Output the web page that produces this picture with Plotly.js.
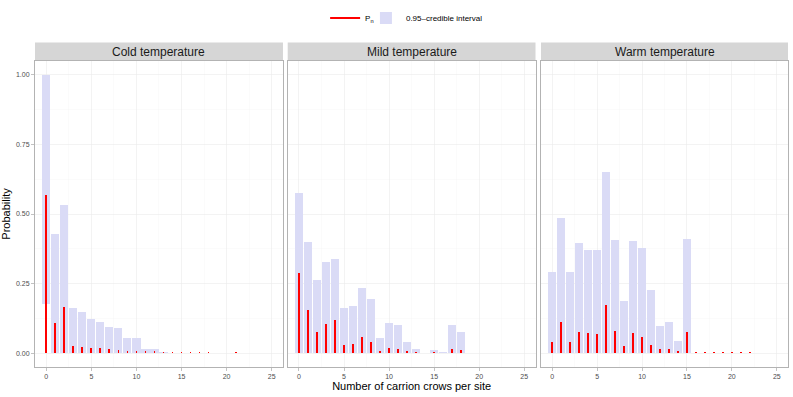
<!DOCTYPE html>
<html>
<head>
<meta charset="utf-8">
<script src="https://cdn.plot.ly/plotly-3.0.1.min.js"></script>
<style>
  html, body { margin: 0; padding: 0; background: #ffffff; }
  #chart { width: 793px; height: 397px; }
</style>
</head>
<body>
<div id="chart"></div>
<script>
// number of carrion crows per site
const counts = [0, 1, 2, 3, 4, 5, 6, 7, 8, 9, 10, 11, 12, 13, 14, 15, 16, 17, 18, 19, 20, 21, 22, 23, 24, 25];

const panelTitles = ["Cold temperature", "Mild temperature", "Warm temperature"];

// P_n (red)
const coldPn = [0.567, 0.109, 0.167, 0.026, 0.023, 0.019, 0.017, 0.014, 0.012, 0.008, 0.008, 0.006, 0.006,
  0.004, 0.003, 0.003, 0.003, 0.003, 0.003, 0.002, 0.002, 0.003, 0.002, 0.002, 0.001, 0.001];
const mildPn = [0.288, 0.155, 0.076, 0.103, 0.119, 0.030, 0.033, 0.057, 0.041, 0.008, 0.017, 0.016, 0.006,
  0.004, 0.002, 0.004, 0.002, 0.016, 0.012, 0.002, 0.002, 0.002, 0.002, 0.002, 0.002, 0.002];
const warmPn = [0.041, 0.112, 0.041, 0.075, 0.074, 0.067, 0.173, 0.080, 0.027, 0.072, 0.059, 0.030, 0.016,
  0.016, 0.008, 0.076, 0.005, 0.004, 0.005, 0.003, 0.003, 0.003, 0.003, 0.002, 0.002, 0.002];

// 0.95-credible interval bounds
const coldLower = [0.176, 0, 0, 0, 0, 0, 0, 0, 0, 0, 0, 0, 0, 0, 0, 0, 0, 0, 0, 0, 0, 0, 0, 0, 0, 0];
const coldUpper = [1.0, 0.429, 0.533, 0.162, 0.149, 0.124, 0.113, 0.093, 0.090, 0.056, 0.056, 0.013, 0.016,
  0.003, 0.001, 0.001, 0.001, 0.001, 0.001, 0, 0, 0.001, 0, 0, 0, 0];
const mildLower = [0, 0, 0, 0, 0, 0, 0, 0, 0, 0, 0, 0, 0, 0, 0, 0, 0, 0, 0, 0, 0, 0, 0, 0, 0, 0];
const mildUpper = [0.575, 0.398, 0.263, 0.327, 0.338, 0.162, 0.170, 0.234, 0.195, 0.056, 0.109, 0.100, 0.039,
  0.016, 0.002, 0.012, 0.005, 0.102, 0.076, 0, 0, 0, 0, 0, 0, 0];
const warmLower = [0, 0, 0, 0, 0, 0, 0, 0, 0, 0, 0, 0, 0, 0, 0, 0, 0, 0, 0, 0, 0, 0, 0, 0, 0, 0];
const warmUpper = [0.292, 0.487, 0.290, 0.394, 0.370, 0.369, 0.651, 0.405, 0.189, 0.403, 0.379, 0.227, 0.096,
  0.111, 0.044, 0.409, 0, 0, 0, 0, 0, 0, 0, 0, 0, 0];

const panels = [
  { pn: coldPn, lower: coldLower, upper: coldUpper },
  { pn: mildPn, lower: mildLower, upper: mildUpper },
  { pn: warmPn, lower: warmLower, upper: warmUpper },
];

const ciColor = "rgb(218,219,246)";
const pnColor = "#ff0000";
const domains = [[0, 0.3293], [0.3356, 0.6647], [0.672, 1]];
const stripTop = 1.0603;

// legend-only line for P_n
const traces = [{
  x: [null], y: [null], type: "scatter", mode: "lines",
  line: { color: pnColor, width: 2 }, name: "P<sub>n</sub>", legendgroup: "pn",
  legend: "legend", hoverinfo: "skip",
}];

panels.forEach((p, i) => {
  const sfx = i === 0 ? "" : String(i + 1);
  traces.push({
    x: counts,
    y: p.upper.map((u, k) => u - p.lower[k]),
    base: p.lower,
    type: "bar",
    width: 0.9,
    marker: { color: ciColor, line: { width: 0 } },
    name: "0.95\u2013credible interval",
    legendgroup: "ci",
    legend: "legend2",
    showlegend: i === 0,
    xaxis: "x" + sfx,
    yaxis: "y" + sfx,
  });
  traces.push({
    x: counts,
    y: p.pn,
    type: "bar",
    width: 0.2,
    marker: { color: pnColor, line: { width: 0 } },
    name: "P<sub>n</sub>",
    legendgroup: "pn",
    showlegend: false,
    xaxis: "x" + sfx,
    yaxis: "y" + sfx,
  });
});

const baseX = {
  range: [-1.25, 26.25],
  tickmode: "linear", tick0: 0, dtick: 5,
  ticks: "outside", ticklen: 3, tickcolor: "#b3b3b3", tickwidth: 0.8,
  tickfont: { size: 7, color: "#4d4d4d" },
  showgrid: true, gridcolor: "#ebebeb", gridwidth: 0.6,
  minor: { dtick: 2.5, tick0: 0, showgrid: true, gridcolor: "#f4f4f4", gridwidth: 0.4 },
  showline: true, mirror: true, linecolor: "#b3b3b3", linewidth: 1,
  zeroline: false, fixedrange: true,
};
const baseY = {
  range: [-0.05, 1.05],
  tickmode: "linear", tick0: 0, dtick: 0.25, tickformat: ".2f",
  ticks: "outside", ticklen: 3, tickcolor: "#b3b3b3", tickwidth: 0.8,
  tickfont: { size: 7, color: "#4d4d4d" },
  showgrid: true, gridcolor: "#ebebeb", gridwidth: 0.6,
  minor: { dtick: 0.125, tick0: 0, showgrid: true, gridcolor: "#f4f4f4", gridwidth: 0.4 },
  showline: true, mirror: true, linecolor: "#b3b3b3", linewidth: 1,
  zeroline: false, fixedrange: true,
};

const legendBase = {
  orientation: "h", y: 1.137, yanchor: "middle",
  font: { size: 8 }, bgcolor: "rgba(0,0,0,0)", borderwidth: 0,
};

const layout = {
  width: 793,
  height: 397,
  margin: { l: 35, r: 5, t: 60, b: 30 },
  paper_bgcolor: "#ffffff",
  plot_bgcolor: "#ffffff",
  font: { family: "Liberation Sans, Arial, sans-serif", color: "#000000" },
  barmode: "overlay",
  bargap: 0,
  showlegend: true,
  legend: Object.assign({}, legendBase, { x: 0.457, xanchor: "right" }),
  legend2: Object.assign({}, legendBase, { x: 0.4395, xanchor: "left" }),
  shapes: [],
  annotations: [],
};

domains.forEach((d, i) => {
  const sfx = i === 0 ? "" : String(i + 1);
  layout["xaxis" + sfx] = Object.assign({}, baseX, { domain: d, anchor: "y" + sfx });
  layout["yaxis" + sfx] = Object.assign({}, baseY, {
    domain: [0, 1], anchor: "x" + sfx, showticklabels: i === 0,
    ticks: i === 0 ? "outside" : "",
  });
  layout.shapes.push({
    type: "rect", xref: "paper", yref: "paper",
    x0: d[0], x1: d[1], y0: 1, y1: stripTop,
    fillcolor: "#d6d6d6", line: { width: 0 }, layer: "below",
  });
  layout.annotations.push({
    text: panelTitles[i], xref: "paper", yref: "paper",
    x: (d[0] + d[1]) / 2, y: (1 + stripTop) / 2, xanchor: "center", yanchor: "middle",
    showarrow: false, font: { size: 12, color: "#1a1a1a" },
  });
});

layout.yaxis.title = { text: "Probability", font: { size: 11 }, standoff: 5 };
layout.xaxis2.title = { text: "Number of carrion crows per site", font: { size: 11 }, standoff: 2 };

Plotly.newPlot("chart", traces, layout, { displayModeBar: false, staticPlot: true });
</script>
</body>
</html>
